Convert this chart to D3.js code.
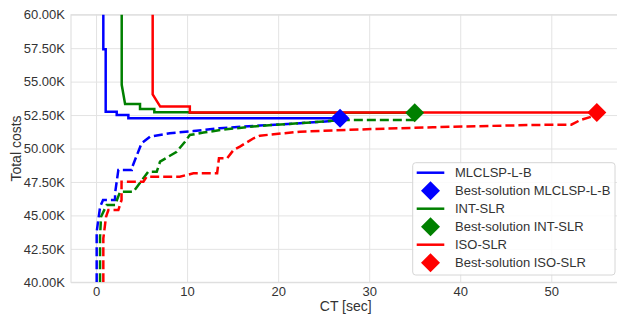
<!DOCTYPE html>
<html>
<head>
<meta charset="utf-8">
<script src="https://cdn.jsdelivr.net/npm/d3@7"></script>
<style>
  html, body { margin: 0; padding: 0; background: #ffffff; }
  svg { display: block; font-family: "Liberation Sans", Arial, sans-serif; }
</style>
</head>
<body>
<svg id="chart" width="617" height="323"></svg>
<script>
// ---------------- data ----------------
const seriesNames  = ["MLCLSP-L-B", "INT-SLR", "ISO-SLR"];
const seriesColors = ["#0000ff", "#008000", "#ff0000"];
const legendLabels = ["MLCLSP-L-B", "Best-solution MLCLSP-L-B", "INT-SLR",
                      "Best-solution INT-SLR", "ISO-SLR", "Best-solution ISO-SLR"];
const xTicks = [0, 10, 20, 30, 40, 50];
const yTicks = [40000, 42500, 45000, 47500, 50000, 52500, 55000, 57500, 60000];
const xLabel = "CT [sec]";
const yLabel = "Total costs";

// upper bounds (solid), [CT sec, cost]
const mlclspUpper = [[0.80, 62000], [0.80, 57420], [1.06, 57420], [1.06, 52750], [2.27, 52750],
                     [2.27, 52510], [3.55, 52510], [3.55, 52260], [26.8, 52260]];
const intUpper    = [[2.82, 62000], [2.82, 54760], [3.19, 53330], [4.83, 53330], [4.83, 52960],
                     [6.40, 52960], [6.40, 52700], [10.3, 52700], [10.3, 52670], [35.0, 52670]];
const isoUpper    = [[6.22, 62000], [6.22, 54050], [7.05, 53130], [10.3, 53130], [10.3, 52690],
                     [55.0, 52690]];

// lower bounds (dashed)
const mlclspLower = [[0.07, 40000], [0.07, 43780], [0.45, 45650], [0.77, 46150], [2.09, 46150],
                     [2.09, 46650], [2.45, 48400], [3.92, 48400], [3.92, 48520], [5.00, 50390],
                     [5.93, 50885], [8.10, 51140], [10.7, 51300], [13.6, 51520], [18.0, 51720],
                     [22.4, 51890], [26.0, 52060], [26.8, 52260]];
const intLower    = [[0.44, 40000], [0.44, 43400], [0.55, 44900], [1.17, 45780], [2.09, 45780],
                     [2.64, 46770], [4.10, 46770], [5.74, 48270], [6.67, 48270], [7.03, 49020],
                     [8.86, 49760], [9.77, 50510], [10.3, 51010], [11.8, 51190], [14.3, 51440],
                     [18.0, 51690], [22.4, 51890], [26.5, 52100], [27.5, 52130], [35.0, 52130]];
const isoLower    = [[0.80, 40000], [0.80, 43290], [1.10, 44900], [1.35, 45400], [2.45, 45400],
                     [2.80, 46150], [2.80, 47520], [5.20, 47520], [5.56, 47890], [9.20, 47890],
                     [10.7, 48150], [13.3, 48150], [13.5, 49270], [14.4, 49270], [15.1, 49890],
                     [15.8, 50140], [17.3, 50765], [18.0, 50960], [22.4, 51260], [29.7, 51440],
                     [37.0, 51590], [48.0, 51760], [52.2, 51780], [53.2, 52130], [54.4, 52380],
                     [55.0, 52690]];

// best solutions (diamonds)
const bestSolutions = [[26.8, 52260], [35.0, 52670], [55.0, 52690]];

const upperSeries = [mlclspUpper, intUpper, isoUpper];
const lowerSeries = [mlclspLower, intLower, isoLower];

// ---------------- layout ----------------
const svg = d3.select("#chart");
const plot = { left: 71, right: 620.5, top: 14.7, bottom: 282.3 };

const x = d3.scaleLinear().domain([-2.75, 57.6]).range([plot.left, plot.right]);
const y = d3.scaleLinear().domain([40000, 60000]).range([plot.bottom, plot.top]);

svg.append("defs").append("clipPath").attr("id", "clip")
  .append("rect")
  .attr("x", plot.left).attr("y", plot.top)
  .attr("width", plot.right - plot.left).attr("height", plot.bottom - plot.top);

// grid
const gridColor = "#e3e3e3";
const gx = svg.append("g").attr("transform", `translate(0,${plot.bottom})`)
  .call(d3.axisBottom(x).tickValues(xTicks).tickSize(-(plot.bottom - plot.top)).tickFormat(""));
const gy = svg.append("g").attr("transform", `translate(${plot.left},0)`)
  .call(d3.axisLeft(y).tickValues(yTicks).tickSize(-(plot.right - plot.left)).tickFormat(""));
[gx, gy].forEach(g => {
  g.select(".domain").remove();
  g.selectAll("line").attr("stroke", gridColor).attr("stroke-width", 1);
});

// spines
svg.append("rect")
  .attr("x", plot.left).attr("y", plot.top)
  .attr("width", plot.right - plot.left).attr("height", plot.bottom - plot.top)
  .attr("fill", "none").attr("stroke", "#dcdcdc").attr("stroke-width", 1);

// tick labels
const textColor = "#333333";
const ax = svg.append("g").attr("transform", `translate(0,${plot.bottom})`)
  .call(d3.axisBottom(x).tickValues(xTicks).tickSize(0).tickPadding(4.5).tickFormat(d3.format("d")));
const ay = svg.append("g").attr("transform", `translate(${plot.left},0)`)
  .call(d3.axisLeft(y).tickValues(yTicks).tickSize(0).tickPadding(6)
        .tickFormat(d => (d / 1000).toFixed(2) + "K"));
[ax, ay].forEach(g => {
  g.select(".domain").remove();
  g.selectAll("text").attr("fill", textColor).style("font-size", "13px")
    .style("font-family", '"Liberation Sans", Arial, sans-serif');
});

// axis titles
svg.append("text")
  .attr("x", (plot.left + plot.right) / 2).attr("y", 310.5)
  .attr("text-anchor", "middle").attr("fill", textColor).style("font-size", "14px")
  .text(xLabel);
svg.append("text")
  .attr("transform", `translate(21,${(plot.top + plot.bottom) / 2}) rotate(-90)`)
  .attr("text-anchor", "middle").attr("fill", textColor).style("font-size", "14px")
  .text(yLabel);

// lines
const line = d3.line().x(d => x(d[0])).y(d => y(d[1]));
const marks = svg.append("g").attr("clip-path", "url(#clip)");
const diamond = d3.symbol().type(d3.symbolSquare).size(180);

seriesNames.forEach((name, i) => {
  marks.append("path").datum(upperSeries[i])
    .attr("d", line).attr("fill", "none")
    .attr("stroke", seriesColors[i]).attr("stroke-width", 2.5)
    .attr("stroke-linejoin", "miter");
  marks.append("path").datum(lowerSeries[i])
    .attr("d", line).attr("fill", "none")
    .attr("stroke", seriesColors[i]).attr("stroke-width", 2.5)
    .attr("stroke-dasharray", "9,4");
});
seriesNames.forEach((name, i) => {
  svg.append("path")
    .attr("d", diamond)
    .attr("transform", `translate(${x(bestSolutions[i][0])},${y(bestSolutions[i][1])}) rotate(45)`)
    .attr("fill", seriesColors[i]);
});

// legend
const lg = svg.append("g");
lg.append("rect")
  .attr("x", 412.7).attr("y", 162.7).attr("width", 202.3).attr("height", 112.3)
  .attr("rx", 3).attr("fill", "#ffffff").attr("fill-opacity", 0.85)
  .attr("stroke", "#d6d6d6").attr("stroke-width", 1);
legendLabels.forEach((label, k) => {
  const cy = 172.7 + k * 18;
  const ci = Math.floor(k / 2);
  if (k % 2 === 0) {
    lg.append("line").attr("x1", 416.7).attr("x2", 444.3).attr("y1", cy).attr("y2", cy)
      .attr("stroke", seriesColors[ci]).attr("stroke-width", 2.5);
  } else {
    lg.append("path").attr("d", diamond)
      .attr("transform", `translate(430.5,${cy}) rotate(45)`)
      .attr("fill", seriesColors[ci]);
  }
  lg.append("text").attr("x", 455).attr("y", cy).attr("dy", "0.35em")
    .attr("fill", textColor).style("font-size", "13px").text(label);
});
</script>
</body>
</html>
